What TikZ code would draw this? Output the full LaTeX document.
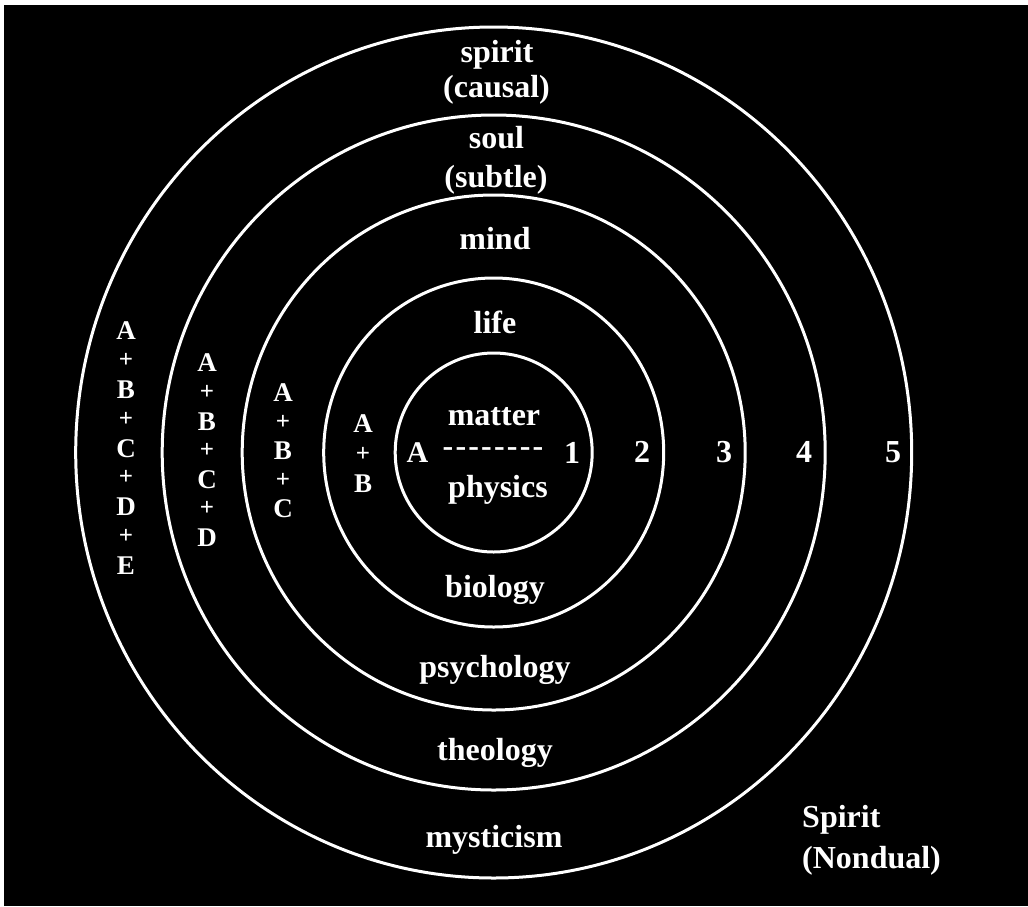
\documentclass[tikz,border=0pt]{standalone}
\usepackage{fontspec}
\setmainfont{Liberation Serif}
\begin{document}
\begin{tikzpicture}[x=1pt,y=-1pt,
  lab/.style={text=white,font=\fontsize{32}{36}\selectfont\bfseries,inner sep=0pt,anchor=base},
  stk/.style={text=white,font=\fontsize{27}{30}\selectfont\bfseries,inner sep=0pt},
  plus/.style={text=white,font=\fontsize{25}{28}\selectfont\bfseries,inner sep=0pt},
  num/.style={text=white,font=\fontsize{32}{36}\selectfont\bfseries,inner sep=0pt},
  ring/.style={draw=white,line width=3pt}]
\fill[white] (0,0) rectangle (1028,906);
\fill[black] (4,5) rectangle (1028,906);
\useasboundingbox (0,0) rectangle (1028,906);
\coordinate (c) at (493.7,452.5);
% rings
\draw[ring] (c) ellipse [x radius=98.5, y radius=99.5];
\draw[ring] (c) ellipse [x radius=170, y radius=174.5];
\draw[ring] (c) ellipse [x radius=251.5, y radius=257.5];
\draw[ring] (c) ellipse [x radius=331.5, y radius=337.5];
\draw[ring] (c) ellipse [x radius=418, y radius=425.5];
% level labels
\node[lab] (spirit) at (497,62) {spirit};
\node[lab] (causal) at (496.5,97) {(causal)};
\node[lab] (soul) at (496.5,148) {soul};
\node[lab] (subtle) at (496,187) {(subtle)};
\node[lab] (mind) at (495,249) {mind};
\node[lab] (life) at (495,333) {life};
\node[lab] (matter) at (494,425) {matter};
\node[num] (dash) at (493,452) {-\kern2.2pt-\kern2.2pt-\kern2.2pt-\kern2.2pt-\kern2.2pt-\kern2.2pt-\kern2.2pt-};
\node[lab] (physics) at (498,497) {physics};
\node[lab] (biology) at (495,597) {biology};
\node[lab] (psychology) at (495,677) {psychology};
\node[lab] (theology) at (495,760) {theology};
\node[lab] (mysticism) at (494,847) {mysticism};
\node[lab,anchor=base west] (Spirit) at (802,827) {Spirit};
\node[lab,anchor=base west] (nondual) at (802,868) {(Nondual)};
% numbers
\node[num,font=\fontsize{30}{34}\selectfont\bfseries] (a1) at (417.5,453) {A};
\node[num] (n1) at (572,452.5) {1};
\node[num] (n2) at (642,452) {2};
\node[num] (n3) at (724,452) {3};
\node[num] (n4) at (804,452) {4};
\node[num] (n5) at (893,452) {5};
% stacks
\foreach \t [count=\k from 0] in {A,B,C,D,E}
  \node[stk] (e\k) at (126,331+58.7*\k) {\t};
\foreach \k in {0,...,3}
  \node[plus] (ep\k) at (126,360.35+58.7*\k) {+};
\foreach \t [count=\k from 0] in {A,B,C,D}
  \node[stk] (d\k) at (207,363+58.3*\k) {\t};
\foreach \k in {0,...,2}
  \node[plus] (dp\k) at (207,392.15+58.3*\k) {+};
\foreach \t [count=\k from 0] in {A,B,C}
  \node[stk] (c\k) at (283,393+58*\k) {\t};
\foreach \k in {0,1}
  \node[plus] (cp\k) at (283,422+58*\k) {+};
\foreach \t [count=\k from 0] in {A,B}
  \node[stk] (b\k) at (363,424+60*\k) {\t};
\node[plus] (bp0) at (363,454) {+};
\end{tikzpicture}
\end{document}
